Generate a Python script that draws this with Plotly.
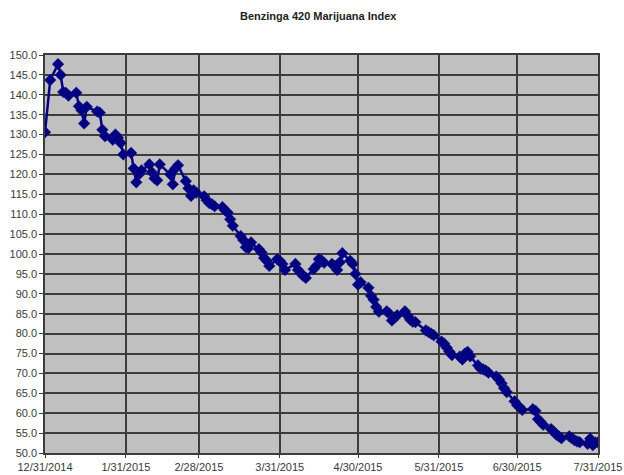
import plotly.graph_objects as go

# Trading dates (explicit)
dates = (
    ["2014-12-31"]
    + ["2015-01-%02d" % d for d in [2, 5, 6, 7, 8, 9, 12, 13, 14, 15, 16, 20, 21, 22, 23, 26, 27, 28, 29, 30]]
    + ["2015-02-%02d" % d for d in [2, 3, 4, 5, 6, 9, 10, 11, 12, 13, 17, 18, 19, 20, 23, 24, 25, 26, 27]]
    + ["2015-03-%02d" % d for d in [2, 3, 4, 5, 6, 9, 10, 11, 12, 13, 16, 17, 18, 19, 20, 23, 24, 25, 26, 27, 30, 31]]
    + ["2015-04-%02d" % d for d in [1, 2, 6, 7, 8, 9, 10, 13, 14, 15, 16, 17, 20, 21, 22, 23, 24, 27, 28, 29, 30]]
    + ["2015-05-%02d" % d for d in [1, 4, 5, 6, 7, 8, 11, 12, 13, 14, 15, 18, 19, 20, 21, 22, 26, 27, 28, 29]]
    + ["2015-06-%02d" % d for d in [1, 2, 3, 4, 5, 8, 9, 10, 11, 12, 15, 16, 17, 18, 19, 22, 23, 24, 25, 26, 29, 30]]
    + ["2015-07-%02d" % d for d in [1, 2, 6, 7, 8, 9, 10, 13, 14, 15, 16, 17, 20, 21, 22, 23, 24, 27, 28, 29, 30, 31]]
)

dec_values = [130.6]
jan_values = [143.7, 147.7, 145.0, 140.7, 140.5, 139.8, 140.5, 137.1, 136.1, 132.8,
              137.0, 135.8, 135.5, 131.2, 129.6, 128.7, 130.0, 129.2, 127.9, 125.0]
feb_values = [125.4, 121.5, 118.0, 120.0, 121.0, 122.5, 120.5, 119.0, 118.5, 122.5,
              120.0, 117.5, 121.5, 122.3, 118.3, 116.5, 114.6, 116.0, 115.4]
mar_values = [114.5, 113.5, 112.8, 112.5, 112.0, 111.8, 111.0, 110.4, 108.7, 107.1, 104.5,
              103.5, 101.7, 101.5, 102.9, 101.2, 100.4, 99.0, 98.3, 97.0, 98.7, 98.3]
apr_values = [97.5, 96.0, 97.5, 96.0, 95.2, 94.5, 94.0, 96.2, 97.0, 98.7, 98.4,
              97.8, 97.5, 97.0, 96.0, 97.9, 100.2, 98.3, 97.5, 95.0, 92.3]
may_values = [92.9, 91.5, 89.5, 88.5, 86.7, 85.5, 85.6, 85.0, 83.3, 84.0,
              84.6, 85.6, 84.5, 83.5, 83.0, 82.9, 80.8, 80.4, 80.0, 79.6]
jun_values = [78.0, 77.5, 76.5, 75.5, 74.6, 74.2, 73.5, 75.0, 75.4, 74.3, 72.0,
              71.2, 71.0, 70.7, 70.2, 69.2, 68.5, 67.5, 66.3, 65.3, 63.0, 62.0]
jul_values = [61.5, 60.8, 61.0, 60.6, 58.5, 57.8, 57.1, 56.0, 55.4, 54.6, 54.2,
              53.7, 54.2, 53.7, 53.2, 52.9, 52.7, 52.3, 53.6, 52.0, 52.6, 52.7]

values = dec_values + jan_values + feb_values + mar_values + apr_values + may_values + jun_values + jul_values

tick_dates = ["2014-12-31", "2015-01-31", "2015-02-28", "2015-03-31",
              "2015-04-30", "2015-05-31", "2015-06-30", "2015-07-31"]
tick_labels = ["12/31/2014", "1/31/2015", "2/28/2015", "3/31/2015",
               "4/30/2015", "5/31/2015", "6/30/2015", "7/31/2015"]

fig = go.Figure()
fig.add_trace(go.Scatter(
    x=dates, y=values, mode="lines+markers",
    line=dict(color="#000080", width=2.5),
    marker=dict(symbol="diamond", size=9, color="#000080",
                line=dict(color="#1a1a90", width=0.5)),
    hoverinfo="x+y",
))

grid_col = "#3c3c3c"
fig.update_layout(
    width=624, height=475,
    margin=dict(l=45, r=26, t=55, b=22),
    paper_bgcolor="white",
    plot_bgcolor="#c0c0c0",
    showlegend=False,
    title=dict(text="<b>Benzinga 420 Marijuana Index</b>", x=0.51, xanchor="center",
               y=0.966, yanchor="middle",
               font=dict(family="Liberation Sans, Arial", size=11, color="#222222")),
    font=dict(family="Liberation Sans, Arial", size=11, color="#3a3a3a"),
)
fig.update_xaxes(
    type="date", range=["2014-12-31", "2015-07-31"],
    tickmode="array", tickvals=tick_dates, ticktext=tick_labels,
    showgrid=True, gridcolor=grid_col, gridwidth=1.5,
    showline=True, linecolor=grid_col, linewidth=1.5, mirror=True,
    ticks="outside", ticklen=3, tickcolor=grid_col,
    zeroline=False, automargin=False,
    tickfont=dict(size=11, color="#3a3a3a"),
)
fig.update_yaxes(
    range=[50, 150], dtick=5, tick0=50, tickformat=".1f",
    showgrid=True, gridcolor=grid_col, gridwidth=1.5,
    showline=True, linecolor=grid_col, linewidth=1.5, mirror=True,
    ticks="outside", ticklen=4, tickcolor=grid_col,
    zeroline=False, automargin=False,
    tickfont=dict(size=11, color="#3a3a3a"),
)

fig.write_html("out.html")
